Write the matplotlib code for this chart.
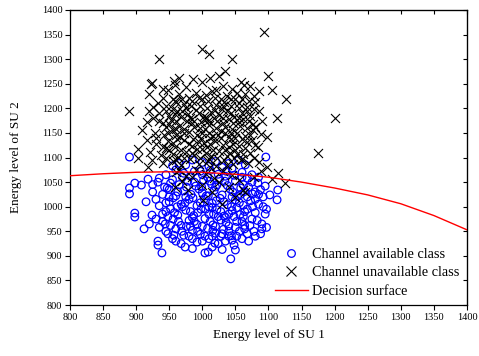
import matplotlib
matplotlib.use("Agg")
import matplotlib.pyplot as plt
from matplotlib.lines import Line2D

# Energy pairs (SU 1, SU 2) for samples where the channel is available
available = [
    (890, 1101), (1096, 1101), (985, 1095), (1000, 1090), (1020, 1092), (1040, 1088),
    (1055, 1095), (975, 1085), (1010, 1082), (1030, 1080), (1065, 1085), (955, 1083),
    (1045, 1078),
    (960, 1075), (972, 1068), (988, 1072), (1000, 1065), (1012, 1074), (1024, 1066),
    (1036, 1072), (1048, 1064), (1060, 1070), (1075, 1065), (945, 1065), (1085, 1060),
    (1008, 1060), (982, 1062),
    (898, 1048), (908, 1044), (918, 1056), (933, 1050), (943, 1040), (955, 1055),
    (965, 1045), (978, 1052), (990, 1042), (1002, 1054), (1014, 1046), (1026, 1056),
    (1038, 1043), (1050, 1052), (1062, 1045), (1075, 1050), (1084, 1048), (1095, 1042),
    (935, 1058), (970, 1060), (1020, 1040), (1068, 1058), (890, 1038),
    (890, 1026), (925, 1030), (940, 1025), (950, 1035), (960, 1022), (972, 1032),
    (983, 1025), (995, 1036), (1006, 1022), (1018, 1033), (1030, 1024), (1042, 1036),
    (1053, 1021), (1064, 1031), (1076, 1026), (1088, 1035), (1102, 1024), (1114, 1034),
    (947, 1038), (1000, 1028), (1058, 1038), (1092, 1020),
    (930, 1015), (945, 1008), (956, 1018), (968, 1005), (980, 1015), (992, 1002),
    (1003, 1016), (1015, 1007), (1027, 1017), (1038, 1004), (1050, 1014), (1062, 1003),
    (1073, 1012), (1085, 1005), (1113, 1014), (1092, 1000), (935, 1002), (1010, 1000),
    (1045, 1020), (975, 1020),
    (898, 987), (898, 979), (924, 983), (940, 985), (952, 996), (963, 983),
    (975, 993), (987, 982), (998, 995), (1010, 985), (1022, 994), (1033, 981),
    (1045, 992), (1057, 984), (1068, 995), (1080, 988), (1095, 985), (1097, 995),
    (948, 980), (1015, 998), (1062, 980),
    (930, 975), (944, 965), (956, 975), (968, 962), (980, 972), (992, 964),
    (1004, 976), (1016, 963), (1028, 973), (1040, 961), (1052, 970), (1064, 962),
    (1075, 975), (1090, 965), (1097, 958), (985, 978), (1035, 978), (1020, 960),
    (912, 955), (935, 958), (948, 945), (960, 955), (972, 942), (985, 952),
    (997, 944), (1008, 956), (1020, 946), (1032, 954), (1044, 941), (1056, 950),
    (1068, 945), (1090, 955), (1088, 945), (980, 940), (1050, 958),
    (933, 930), (933, 922), (955, 935), (968, 925), (974, 918), (992, 928),
    (1010, 935), (1019, 926), (1024, 925), (1035, 930), (1048, 922), (1060, 935),
    (1040, 940),
    (939, 906), (1004, 906), (1009, 908), (1030, 913), (1043, 894), (1050, 912),
    (952, 1048), (963, 1030), (976, 1040), (988, 1050), (999, 1040), (1011, 1052),
    (1022, 1044), (1034, 1052), (1046, 1030), (1058, 1025), (1070, 1040), (1080, 1030),
    (950, 1010), (962, 1000), (974, 1008), (986, 1018), (997, 1008), (1009, 1022),
    (1021, 1012), (1033, 1010), (1044, 1000), (1056, 1008), (1068, 1020), (1080, 1015),
    (945, 990), (958, 988), (970, 1000), (982, 990), (993, 988), (1005, 995),
    (1017, 985), (1028, 990), (1040, 985), (1052, 998), (1064, 990), (1076, 1000),
    (940, 970), (952, 962), (964, 970), (976, 960), (988, 970), (1000, 960),
    (1012, 970), (1024, 980), (1036, 968), (1048, 980), (1060, 970), (1072, 962),
    (1083, 972),
    (945, 950), (957, 942), (969, 950), (982, 960), (993, 950), (1004, 940),
    (1016, 952), (1028, 940), (1040, 950), (1052, 940), (1064, 955), (1078, 950),
    (960, 930), (985, 935), (1000, 930), (1015, 940), (1030, 945), (1045, 932),
    (985, 915), (1015, 918), (965, 1088), (1035, 1062), (950, 1020), (1085, 1025),
    (1060, 1060), (997, 1072), (925, 1045), (915, 1010), (920, 965), (1070, 930),
    (1080, 940),
]

# Energy pairs (SU 1, SU 2) for samples where the channel is occupied
unavailable = [
    (1093, 1355), (999, 1320), (1010, 1310), (935, 1300), (1045, 1300), (1035, 1275),
    (1100, 1265), (1105, 1237), (1127, 1220), (1200, 1180), (1113, 1180), (1098, 1142),
    (1175, 1110),
    (924, 1252), (957, 1256), (986, 1259), (999, 1254), (1011, 1261), (1058, 1254),
    (1063, 1248), (1072, 1246), (959, 1248), (922, 1250), (1032, 1245), (1045, 1240),
    (975, 1243), (1020, 1238),
    (919, 1229), (948, 1237), (965, 1230), (990, 1232), (1005, 1228), (1015, 1236),
    (1038, 1226), (1052, 1232), (1065, 1230), (1078, 1225), (940, 1222), (980, 1222),
    (1028, 1220), (1060, 1218), (955, 1220),
    (933, 1211), (945, 1205), (960, 1212), (972, 1208), (985, 1215), (996, 1205),
    (1008, 1214), (1020, 1206), (1033, 1212), (1044, 1204), (1055, 1210), (1068, 1203),
    (1080, 1212), (925, 1202), (1000, 1218), (1050, 1218), (975, 1200),
    (889, 1195), (919, 1195), (935, 1190), (950, 1185), (962, 1195), (978, 1188),
    (990, 1196), (1002, 1184), (1013, 1192), (1025, 1186), (1038, 1194), (1048, 1182),
    (1060, 1190), (1072, 1185), (1085, 1195), (955, 1198), (1030, 1199), (968, 1182),
    (1018, 1180),
    (916, 1172), (940, 1170), (952, 1176), (965, 1165), (977, 1174), (988, 1163),
    (998, 1172), (1010, 1166), (1022, 1175), (1034, 1162), (1046, 1170), (1057, 1164),
    (1070, 1174), (1080, 1162), (945, 1162), (1003, 1178), (1062, 1178), (985, 1178),
    (1040, 1178),
    (909, 1156), (928, 1150), (942, 1145), (955, 1155), (967, 1142), (980, 1152),
    (992, 1146), (1004, 1157), (1016, 1144), (1028, 1153), (1040, 1141), (1052, 1150),
    (1064, 1144), (1076, 1155), (1088, 1148), (960, 1158), (1010, 1150), (1045, 1158),
    (998, 1140),
    (916, 1136), (930, 1128), (948, 1133), (958, 1122), (972, 1135), (984, 1124),
    (995, 1132), (1007, 1121), (1019, 1134), (1031, 1126), (1043, 1137), (1055, 1123),
    (1067, 1131), (1079, 1125), (1084, 1121), (962, 1138), (1012, 1128), (1050, 1140),
    (940, 1122),
    (903, 1117), (921, 1111), (937, 1105), (950, 1115), (963, 1102), (976, 1112),
    (988, 1106), (1000, 1117), (1013, 1103), (1025, 1113), (1037, 1104), (1049, 1116),
    (1061, 1107), (1072, 1109), (955, 1108), (1005, 1110), (1042, 1110),
    (903, 1099), (924, 1095), (918, 1081), (940, 1088), (955, 1093), (968, 1084),
    (982, 1096), (995, 1087), (1008, 1092), (1020, 1083), (1033, 1095), (1046, 1086),
    (1058, 1094), (1069, 1089), (1098, 1081), (1085, 1090),
    (960, 1070), (975, 1062), (990, 1075), (1005, 1066), (1018, 1058), (1032, 1072),
    (1045, 1064), (1055, 1055), (1114, 1068), (1105, 1056), (1125, 1048), (1088, 1072),
    (970, 1052), (1025, 1050), (1078, 1060),
    (1064, 1030), (1001, 1014), (978, 1034), (1040, 1040), (1030, 1005), (1000, 1045),
    (958, 1040), (1015, 1030), (1050, 1020), (1061, 1034),
    (958, 1215), (970, 1220), (983, 1205), (995, 1222), (1007, 1200), (1019, 1222),
    (1031, 1205), (1043, 1218), (1056, 1200), (1070, 1215),
    (945, 1195), (958, 1188), (970, 1195), (982, 1180), (995, 1190), (1007, 1180),
    (1019, 1196), (1031, 1180), (1043, 1190), (1055, 1180), (1067, 1195), (1078, 1198),
    (950, 1168), (960, 1175), (972, 1158), (984, 1170), (996, 1160), (1008, 1175),
    (1020, 1160), (1032, 1170), (1044, 1150), (1056, 1172), (1068, 1160), (1076, 1168),
    (948, 1150), (961, 1145), (973, 1150), (986, 1138), (999, 1150), (1011, 1140),
    (1023, 1145), (1035, 1150), (1047, 1128), (1060, 1138), (1072, 1145),
    (945, 1120), (956, 1130), (968, 1115), (980, 1128), (992, 1118), (1003, 1130),
    (1016, 1115), (1028, 1140), (1040, 1122), (1052, 1108), (1064, 1120), (1075, 1135),
    (945, 1100), (960, 1095), (972, 1100), (985, 1110), (997, 1100), (1010, 1098),
    (1022, 1100), (1035, 1115), (1048, 1100), (1060, 1098), (1078, 1100),
    (985, 1060), (1012, 1080), (1038, 1085), (965, 1075), (930, 1140), (935, 1175),
    (925, 1180), (1090, 1175), (1085, 1235), (1025, 1265), (965, 1262), (940, 1240),
]

# Sampled points along the decision boundary
surface_x = [800, 850, 900, 950, 1000, 1050, 1100, 1150, 1200, 1250, 1300, 1350, 1400]
surface_y = [1063, 1067, 1070, 1071, 1070, 1066, 1060, 1050, 1038, 1024, 1006, 982, 953]

x_ticks = list(range(800, 1401, 50))
y_ticks = list(range(800, 1401, 50))

plt.rcParams["font.family"] = ["Liberation Serif", "DejaVu Serif"]

fig = plt.figure(figsize=(4.79, 3.56), dpi=100)
ax = fig.add_axes([0.146, 0.143, 0.829, 0.829])

ax.scatter([p[0] for p in available], [p[1] for p in available], s=30,
           facecolors="none", edgecolors="#0000ff", linewidths=0.9, zorder=2)
ax.scatter([p[0] for p in unavailable], [p[1] for p in unavailable], s=42,
           marker="x", color="black", linewidths=0.8, zorder=3)
ax.plot(surface_x, surface_y, color="#ff0000", lw=1.0, zorder=4)

ax.set_xlim(800, 1400)
ax.set_ylim(800, 1400)
ax.set_xticks(x_ticks)
ax.set_yticks(y_ticks)
ax.tick_params(direction="out", length=3.5, width=0.8, labelsize=7.5, pad=2)
for s in ax.spines.values():
    s.set_linewidth(0.9)

# mirrored inward ticks on top and right
top = ax.secondary_xaxis("top")
top.set_xticks(x_ticks)
top.tick_params(direction="in", length=3, width=0.8, labeltop=False)
right = ax.secondary_yaxis("right")
right.set_yticks(y_ticks)
right.tick_params(direction="in", length=3, width=0.8, labelright=False)

ax.set_xlabel("Energy level of SU 1", fontsize=9.5, labelpad=5)
ax.set_ylabel("Energy level of SU 2", fontsize=9.5, labelpad=14)

handles = [
    Line2D([], [], ls="none", marker="o", markersize=5.5, markerfacecolor="none",
           markeredgecolor="#0000ff", markeredgewidth=0.9),
    Line2D([], [], ls="none", marker="x", markersize=6.5, color="black",
           markeredgewidth=0.8),
    Line2D([], [], color="#ff0000", lw=1.0),
]
ax.legend(handles, ["Channel available class", "Channel unavailable class",
                    "Decision surface"],
          loc="lower right", bbox_to_anchor=(1.0, 0.0), frameon=False,
          fontsize=10.3, handlelength=2.3, handletextpad=0.3, labelspacing=0.36,
          borderaxespad=0.12)

fig.savefig("out.png", dpi=100)
